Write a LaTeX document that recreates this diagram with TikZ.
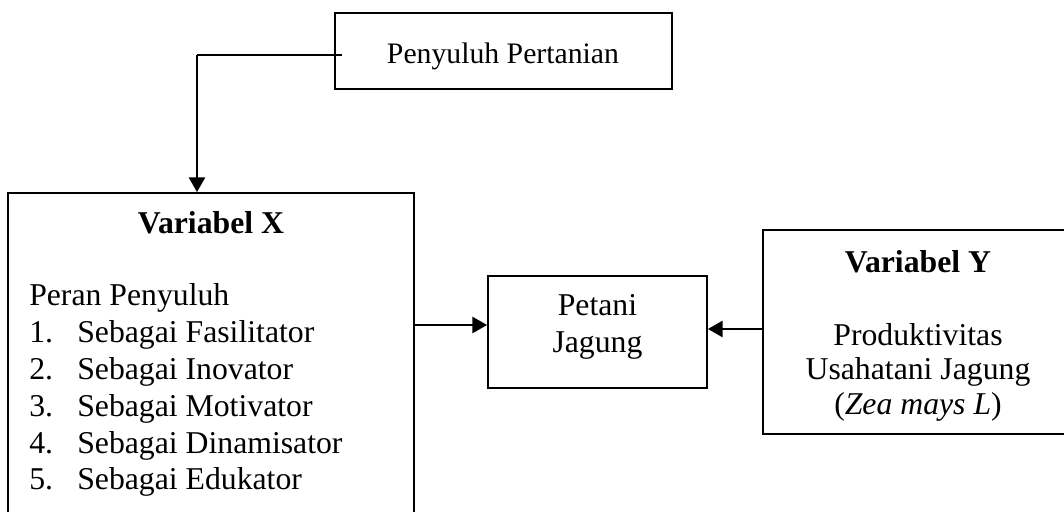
\documentclass[tikz,border=0pt]{standalone}
\usepackage{fontspec}
\setmainfont{Liberation Serif}
\usetikzlibrary{arrows.meta,fit}
\begin{document}
\begin{tikzpicture}[x=0.75pt,y=-0.75pt,
  boxframe/.style={draw=black,line width=1.3pt,inner sep=0pt},
  conn/.style={draw=black,line width=1.8pt},
  arr/.style={conn,-{Triangle[length=11pt,width=12pt]}},
  txt/.style={anchor=base,inner sep=0pt,font=\fontsize{23.8pt}{27.6pt}\selectfont},
  ltxt/.style={txt,anchor=base west},
  ttxt/.style={txt,font=\fontsize{22.3pt}{26pt}\selectfont}]
\useasboundingbox (0,0) rectangle (1064,511);
% box corners
\coordinate (t1) at (335,13); \coordinate (t2) at (672,89);
\coordinate (x1) at (8,193); \coordinate (x2) at (414,540);
\coordinate (p1) at (488,276); \coordinate (p2) at (707,388);
\coordinate (y1) at (763,230); \coordinate (y2) at (1073,434);
\node[boxframe,fit=(t1)(t2)] (top) {};
\node[boxframe,fit=(x1)(x2)] (X) {};
\node[boxframe,fit=(p1)(p2)] (pj) {};
\node[boxframe,fit=(y1)(y2)] (Y) {};
% texts
\node[ttxt] (tt) at (503,63) {Penyuluh Pertanian};
\node[txt] (xh) at (211,233) {\bfseries Variabel X};
\node[ltxt] (xs) at (29,305) {Peran Penyuluh};
\node[ltxt] (n1) at (29,342) {1.};
\node[ltxt] (i1) at (77,342) {Sebagai Fasilitator};
\node[ltxt] (n2) at (29,379) {2.};
\node[ltxt] (i2) at (77,379) {Sebagai Inovator};
\node[ltxt] (n3) at (29,416) {3.};
\node[ltxt] (i3) at (77,416) {Sebagai Motivator};
\node[ltxt] (n4) at (29,453) {4.};
\node[ltxt] (i4) at (77,453) {Sebagai Dinamisator};
\node[ltxt] (n5) at (29,489) {5.};
\node[ltxt] (i5) at (77,489) {Sebagai Edukator};
\node[txt] (pa) at (597.5,315) {Petani};
\node[txt] (pb) at (597.5,352) {Jagung};
\node[txt] (yh) at (918,272) {\bfseries Variabel Y};
\node[txt] (ya) at (918,345) {Produktivitas};
\node[txt] (yb) at (918,379.5) {Usahatani Jagung};
\node[txt] (yc) at (918,414) {(\textit{Zea mays L})};
% connectors
\coordinate (bend) at (197,55);
\draw[conn] ([xshift=6pt]top.west |- bend) -- (bend);
\draw[arr] (bend) -- (bend |- X.north);
\coordinate (ax) at (0,325);
\coordinate (ay) at (0,329);
\draw[arr] (X.east |- ax) -- (pj.west |- ax);
\draw[arr] (Y.west |- ay) -- (pj.east |- ay);
\end{tikzpicture}
\end{document}
